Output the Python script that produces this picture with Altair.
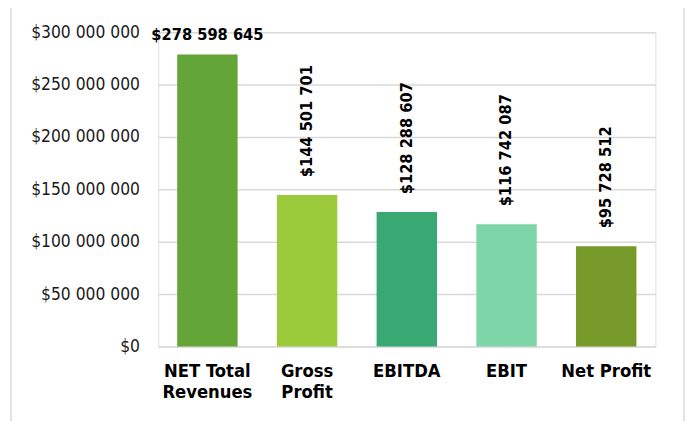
import altair as alt
import pandas as pd

categories = ["NET Total|Revenues", "Gross|Profit", "EBITDA", "EBIT", "Net Profit"]
values = [278598645, 144501701, 128288607, 116742087, 95728512]
colors = ["#63A537", "#9BCB3B", "#3AA873", "#7ED5A8", "#779A2B"]
horizontal = [True, False, False, False, False]

def money(v):
    return "$" + f"{v:,}".replace(",", " ")

df = pd.DataFrame({
    "cat": categories,
    "value": values,
    "label": [money(v) for v in values],
    "horiz": horizontal,
})

FONT = "'DejaVu Sans Condensed', 'DejaVu Sans'"

x = alt.X("cat:N", sort=categories, title=None,
          scale=alt.Scale(paddingInner=0.394, paddingOuter=0.19),
          axis=alt.Axis(labelAngle=0, labelExpr="split(datum.label, '|')",
                        labelFont=FONT, labelFontSize=18.5, labelFontWeight="bold",
                        labelColor="#000000", labelPadding=15, labelLineHeight=22,
                        domain=False, ticks=False, labelBaseline="top"))
y = alt.Y("value:Q", title=None,
          scale=alt.Scale(domain=[0, 300000000], nice=False),
          axis=alt.Axis(values=[0, 50000000, 100000000, 150000000, 200000000, 250000000, 300000000],
                        labelExpr="'$' + replace(replace(format(datum.value, ','), ',', ' '), ',', ' ')",
                        labelFont=FONT, labelFontSize=17.5, labelColor="#1a1a1a",
                        labelPadding=19, domain=False, ticks=False,
                        gridColor="#d9d9d9", gridWidth=1.5))

bars = alt.Chart(df).mark_bar().encode(
    x=x, y=y,
    color=alt.Color("cat:N", sort=categories, legend=None,
                    scale=alt.Scale(domain=categories, range=colors)),
)

lab_h = alt.Chart(df).transform_filter("datum.horiz").mark_text(
    font=FONT, fontSize=16.5, fontWeight="bold", color="#000000",
    baseline="alphabetic", dy=-15,
).encode(x=alt.X("cat:N", sort=categories), y="value:Q", text="label:N")

lab_v = alt.Chart(df).transform_filter("!datum.horiz").mark_text(
    font=FONT, fontSize=16.5, fontWeight="bold", color="#000000",
    angle=270, align="left", baseline="middle", dx=18,
).encode(x=alt.X("cat:N", sort=categories), y="value:Q", text="label:N")

frame = alt.Chart(pd.DataFrame({"a": [0]})).mark_rect(
    fillOpacity=0, stroke="#d9d9d9", strokeWidth=1.5,
).encode(x=alt.value(-149), x2=alt.value(532), y=alt.value(-40), y2=alt.value(411))

chart = alt.layer(frame, bars, lab_h, lab_v).properties(
    width=503, height=318,
    padding={"left": 152, "top": 22, "right": 34, "bottom": 73},
    autosize=alt.AutoSizeParams(type="none"),
).configure_view(stroke=None).configure(background="white")

chart.save("out.html", embed_options={"renderer": "svg", "actions": False})
